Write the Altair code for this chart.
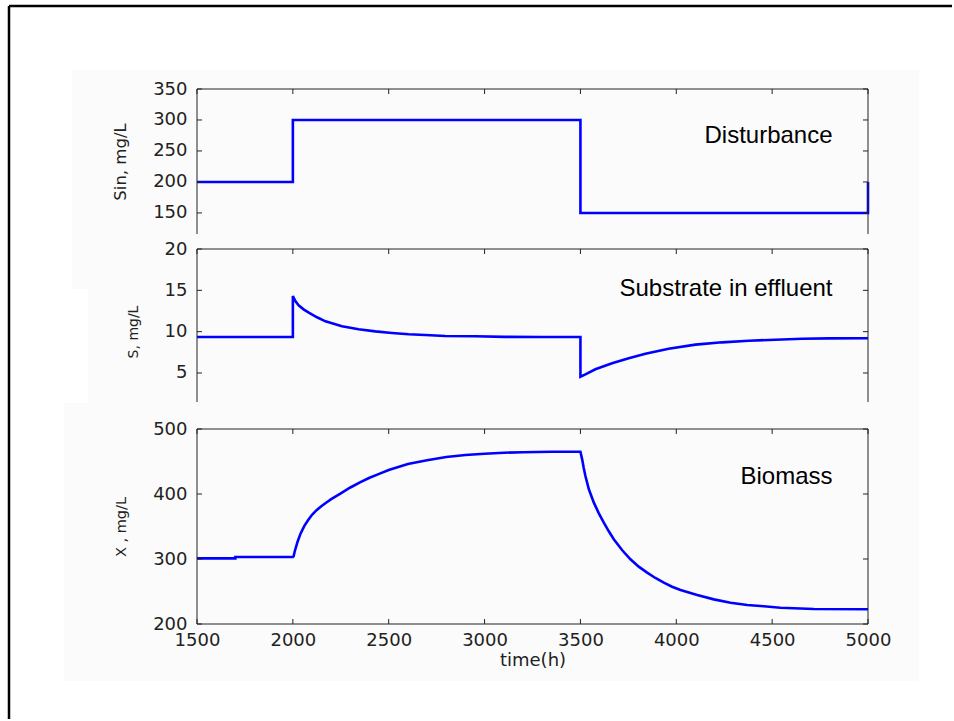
import altair as alt
import pandas as pd

# ---- data ----
T_TICKS = [1500, 2000, 2500, 3000, 3500, 4000, 4500, 5000]
SIN_TICKS = [150, 200, 250, 300, 350]
S_TICKS = [5, 10, 15, 20]
X_TICKS = [200, 300, 400, 500]

SIN_T = [1500, 2000, 2000, 3500, 3500, 5000, 5000]
SIN_V = [200, 200, 300, 300, 150, 150, 200]

S_T = [1500, 2000, 2000, 2013, 2030, 2056, 2083, 2126, 2170, 2256, 2343, 2430, 2517,
       2604, 2690, 2795, 2951, 3104, 3300, 3500, 3500, 3526, 3578, 3665, 3752, 3839,
       3960, 4100, 4239, 4378, 4517, 4656, 4795, 5000]
S_V = [9.36, 9.36, 14.31, 13.71, 13.19, 12.7, 12.3, 11.74, 11.25, 10.65, 10.29, 10.04,
       9.84, 9.68, 9.6, 9.48, 9.44, 9.37, 9.36, 9.35, 4.56, 4.84, 5.45, 6.17, 6.78,
       7.34, 7.94, 8.43, 8.71, 8.91, 9.03, 9.15, 9.19, 9.2]

X_T = [1500, 1700, 1700, 2000, 2004, 2010, 2025, 2040, 2060, 2080, 2100, 2125, 2150,
       2175, 2200, 2250, 2300, 2350, 2400, 2450, 2500, 2600, 2700, 2800, 2900, 3000,
       3100, 3200, 3350, 3500, 3509, 3517, 3526, 3544, 3570, 3596, 3622, 3648, 3674,
       3717, 3761, 3804, 3848, 3891, 3935, 3978, 4022, 4109, 4196, 4283, 4370, 4456,
       4543, 4717, 5000]
X_V = [301, 301, 303, 303, 304, 312, 327, 339, 351, 360, 368, 375.5, 381.5, 387, 392,
       401, 410, 418, 425, 431, 437, 446, 452, 457, 460, 462, 463.5, 464.3, 465, 465,
       453.3, 440.5, 427.7, 407.2, 386.7, 370.3, 355.9, 342.6, 330.3, 313.8, 299.5,
       288.2, 279.0, 270.8, 263.6, 257.4, 252.3, 244.6, 237.9, 232.8, 229.2, 227.2,
       225.1, 223.1, 222.6]

NOTES = ["Disturbance", "Substrate in effluent", "Biomass"]
NOTE_T = [4815, 4815, 4815]
NOTE_V = [262.9, 14.31, 415.4]

# ---- styling ----
W = 671
AX = "#222222"
BLUE = "#0000ff"
BG = "#fbfbfb"
TICK = 5
LABEL_FONT = "DejaVu Sans"
ONE = pd.DataFrame({"a": [0]})


def rule_px(**enc):
    return alt.Chart(ONE).mark_rule(color=AX, strokeWidth=1).encode(
        **{k: alt.value(v) for k, v in enc.items()})


def panel(t, v, lo, hi, H, box_h, yticks, ytitle, tsize, note_i, bottom, bg, extra=()):
    df = pd.DataFrame({"t": t, "v": v, "i": list(range(len(t)))})
    xscale = alt.Scale(domain=[1500, 5000], nice=False, zero=False)
    yscale = alt.Scale(domain=[lo, hi], nice=False, zero=False)
    if bottom:
        xaxis = alt.Axis(values=T_TICKS, format="d", ticks=False, tickSize=0,
                         domain=False, grid=False,
                         labelFont=LABEL_FONT, labelFontSize=18, labelColor=AX,
                         labelPadding=7, labelFlush=False, labelOverlap=False,
                         title="time(h)", titleFont=LABEL_FONT, titleFontSize=18,
                         titleFontWeight="normal", titleColor=AX, titlePadding=2,
                         zindex=1)
    else:
        xaxis = None
    yaxis = alt.Axis(values=yticks, format="d", ticks=False, tickSize=0, domain=False,
                     grid=False, labelFont=LABEL_FONT, labelFontSize=18, labelColor=AX,
                     labelPadding=10, labelOverlap=False,
                     title=ytitle, titleFont=LABEL_FONT, titleFontSize=tsize,
                     titleFontWeight="normal", titleColor=AX, titlePadding=24,
                     zindex=1)

    def X(field):
        return alt.X(field, scale=xscale, axis=xaxis)

    def Y(field):
        return alt.Y(field, scale=yscale, axis=yaxis)

    bx, bx2, by, by2 = bg
    layers = [alt.Chart(ONE).mark_rect(color=BG).encode(
        x=alt.value(bx), x2=alt.value(bx2), y=alt.value(by), y2=alt.value(by2))]
    layers.extend(extra)

    line = alt.Chart(df).mark_line(color=BLUE, strokeWidth=2.6).encode(
        x=X("t:Q"), y=Y("v:Q"), order=alt.Order("i:Q"))
    layers.append(line)

    # box lines
    layers.append(rule_px(x=0, y=0, y2=box_h))
    layers.append(rule_px(x=W, y=0, y2=box_h))
    layers.append(rule_px(x=0, x2=W, y=0))
    if bottom:
        layers.append(rule_px(x=0, x2=W, y=H))

    # inward ticks
    yt = pd.DataFrame({"v": yticks})
    layers.append(alt.Chart(yt).mark_rule(color=AX, strokeWidth=1).encode(
        y=Y("v:Q"), x=alt.value(0), x2=alt.value(TICK)))
    layers.append(alt.Chart(yt).mark_rule(color=AX, strokeWidth=1).encode(
        y=Y("v:Q"), x=alt.value(W - TICK), x2=alt.value(W)))
    xt = pd.DataFrame({"t": T_TICKS})
    layers.append(alt.Chart(xt).mark_rule(color=AX, strokeWidth=1).encode(
        x=X("t:Q"), y=alt.value(0), y2=alt.value(TICK)))
    if bottom:
        layers.append(alt.Chart(xt).mark_rule(color=AX, strokeWidth=1).encode(
            x=X("t:Q"), y=alt.value(H - TICK), y2=alt.value(H)))

    nd = pd.DataFrame({"t": [NOTE_T[note_i]], "v": [NOTE_V[note_i]],
                       "label": [NOTES[note_i]]})
    layers.append(alt.Chart(nd).mark_text(
        align="right", baseline="alphabetic", font="Liberation Sans",
        fontSize=24, color="black").encode(
        x=X("t:Q"), y=Y("v:Q"), text="label:N"))

    return alt.layer(*layers).properties(width=W, height=H)


# outer frame (top and left edges of the slide)
frame = [
    alt.Chart(ONE).mark_rule(color="black", strokeWidth=2.5).encode(
        x=alt.value(-188), x2=alt.value(755), y=alt.value(-83)),
    alt.Chart(ONE).mark_rule(color="black", strokeWidth=2.5).encode(
        x=alt.value(-188), y=alt.value(-83), y2=alt.value(630)),
]

p1 = panel(SIN_T, SIN_V, 116, 350, 145, 145, SIN_TICKS, "Sin, mg/L", 16.5, 0, False,
           (-125, 722, -19, 200), extra=frame)
p2 = panel(S_T, S_V, 0.04, 20, 165, 153, S_TICKS, "S, mg/L", 14, 1, False,
           (-109, 722, -8, 154))
p3 = panel(X_T, X_V, 200, 500, 195, 195, X_TICKS, "X , mg/L", 14.5, 2, True,
           (-133, 722, -26, 252))

chart = alt.vconcat(p1, p2, p3, spacing=15, bounds="flush").properties(
    padding={"left": 7, "top": 4, "right": 0, "bottom": 0},
    background="white",
).configure_view(stroke=None)

chart.save("out.html", embed_options={"renderer": "svg", "actions": False})
